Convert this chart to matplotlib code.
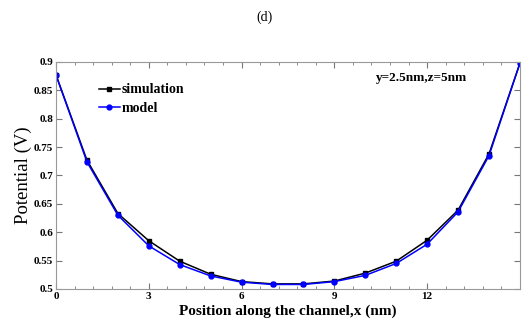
import matplotlib
matplotlib.use('Agg')
import matplotlib.pyplot as plt
from matplotlib.ticker import MultipleLocator, FormatStrFormatter

# positions along channel (nm)
x_pos = [0, 1, 2, 3, 4, 5, 6, 7, 8, 9, 10, 11, 12, 13, 14, 15]
sim_v = [0.877, 0.727, 0.633, 0.585, 0.549, 0.526, 0.513, 0.509, 0.509, 0.514,
         0.528, 0.549, 0.586, 0.639, 0.738, 0.898]
model_v = [0.877, 0.724, 0.630, 0.576, 0.543, 0.523, 0.512, 0.508, 0.508, 0.513,
           0.524, 0.545, 0.579, 0.636, 0.735, 0.898]

x_ticks = [0, 3, 6, 9, 12]
y_ticks = [0.5, 0.55, 0.6, 0.65, 0.7, 0.75, 0.8, 0.85, 0.9]

plt.rcParams['font.family'] = 'Liberation Serif'

fig = plt.figure(figsize=(5.26, 3.22), dpi=100)
ax = fig.add_axes([0.1065, 0.1025, 0.882, 0.705])

ax.plot(x_pos, sim_v, '-', color='black', marker='s', markersize=3.5,
        linewidth=1.1, label='simulation')
ax.plot(x_pos, model_v, '-', color='blue', marker='o', markersize=3.5,
        linewidth=1.1, label='model')

ax.set_xlim(0, 15)
ax.set_ylim(0.5, 0.9)
ax.set_xticks(x_ticks)
ax.set_yticks(y_ticks)
ax.yaxis.set_major_formatter(FormatStrFormatter('%g'))
ax.xaxis.set_minor_locator(MultipleLocator(0.6))
ax.tick_params(which='both', direction='in', top=True, right=True,
               labelsize=8, color='#777777', pad=2)
ax.tick_params(which='major', length=4)
ax.tick_params(which='minor', length=2)
for lab in ax.get_xticklabels() + ax.get_yticklabels():
    lab.set_fontweight('bold')
for s in ax.spines.values():
    s.set_color('#999999')

ax.set_xlabel('Position along the channel,x (nm)', fontsize=11, fontweight='bold', labelpad=3)
ax.set_ylabel('Potential (V)', fontsize=13.5, labelpad=1)
ax.text(0.787, 0.93, 'y=2.5nm,z=5nm', transform=ax.transAxes, ha='center', va='center',
        fontsize=9.5, fontweight='bold')
fig.text(0.503, 0.945, '(d)', ha='center', va='center', fontsize=10)

ax.legend(loc='upper left', bbox_to_anchor=(0.08, 0.93), frameon=False,
          prop={'weight': 'bold', 'size': 10}, handlelength=1.5,
          handletextpad=0.15, labelspacing=0.4, borderaxespad=0)

plt.savefig('out.png', dpi=100)
